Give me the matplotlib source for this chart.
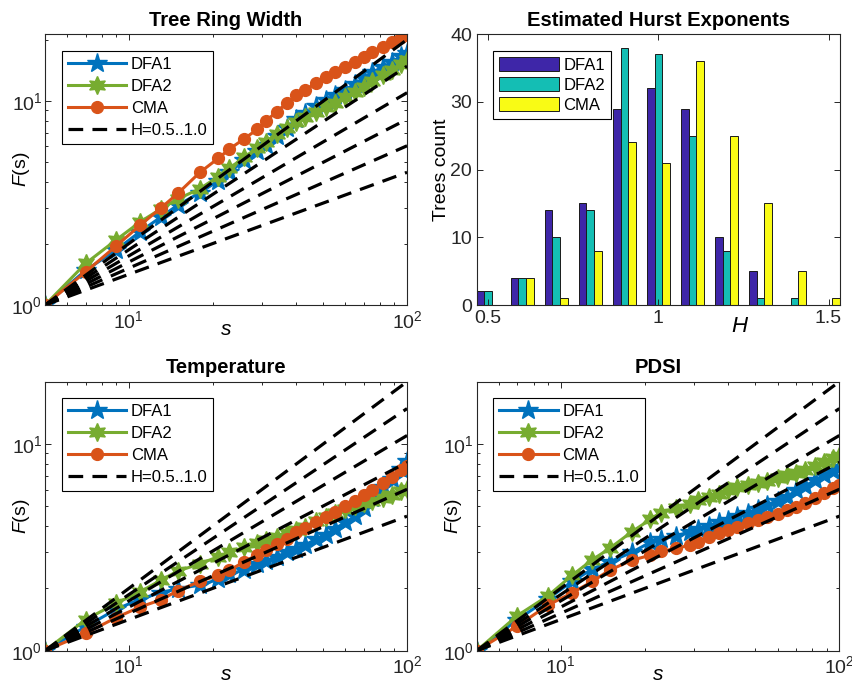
import numpy as np
import matplotlib
matplotlib.use('Agg')
import matplotlib.pyplot as plt
from matplotlib.ticker import NullFormatter

plt.rcParams['font.family'] = ['Liberation Sans', 'DejaVu Sans']
plt.rcParams['mathtext.fontset'] = 'custom'
plt.rcParams['mathtext.rm'] = 'Liberation Sans'
plt.rcParams['mathtext.it'] = 'Liberation Sans:italic'
plt.rcParams['mathtext.bf'] = 'Liberation Sans:bold'

####################
# scales s and log10 F(s)
s = [5, 7, 9, 11, 13, 15, 18, 21, 23, 26, 29, 31, 34, 37, 40, 43, 47, 51, 55,
     60, 65, 70, 75, 82, 88, 95, 100]

tree_dfa1 = [0, 0.17, 0.27, 0.36, 0.43, 0.49, 0.55, 0.61, 0.65, 0.71, 0.755, 0.785, 0.83, 0.87,
             0.91, 0.94, 0.975, 1.005, 1.03, 1.055, 1.085, 1.115, 1.14, 1.168, 1.19, 1.22, 1.234]
tree_dfa2 = [0, 0.204, 0.319, 0.408, 0.47, 0.52, 0.57, 0.63, 0.67, 0.725, 0.77, 0.80, 0.84, 0.87,
             0.895, 0.92, 0.945, 0.97, 0.99, 1.02, 1.045, 1.07, 1.10, 1.13, 1.15, 1.18, 1.20]
tree_cma = [0, 0.163, 0.289, 0.392, 0.474, 0.547, 0.65, 0.72, 0.765, 0.815, 0.862, 0.90, 0.948, 0.99,
            1.029, 1.054, 1.087, 1.119, 1.144, 1.168, 1.193, 1.217, 1.242, 1.266, 1.291, 1.315, 1.324]

temp_dfa1 = [0, 0.116, 0.20, 0.25, 0.28, 0.30, 0.317, 0.345, 0.37, 0.39, 0.42, 0.435, 0.455, 0.475,
             0.49, 0.51, 0.54, 0.56, 0.59, 0.62, 0.65, 0.69, 0.74, 0.79, 0.83, 0.88, 0.919]
temp_dfa2 = [0, 0.15, 0.229, 0.285, 0.34, 0.385, 0.42, 0.455, 0.475, 0.50, 0.52, 0.535, 0.55, 0.567,
             0.585, 0.60, 0.625, 0.648, 0.665, 0.685, 0.70, 0.713, 0.723, 0.74, 0.755, 0.772, 0.783]
temp_cma = [0, 0.084, 0.16, 0.212, 0.245, 0.29, 0.335, 0.365, 0.389, 0.43, 0.465, 0.485, 0.518, 0.54,
            0.575, 0.593, 0.62, 0.645, 0.67, 0.70, 0.725, 0.752, 0.775, 0.81, 0.84, 0.875, 0.895]

pdsi_dfa1 = [0, 0.15, 0.25, 0.335, 0.395, 0.43, 0.475, 0.525, 0.54, 0.555, 0.575, 0.59, 0.605, 0.62,
             0.633, 0.65, 0.668, 0.685, 0.705, 0.725, 0.745, 0.775, 0.795, 0.825, 0.85, 0.87, 0.887]
pdsi_dfa2 = [0, 0.17, 0.265, 0.365, 0.44, 0.495, 0.575, 0.635, 0.668, 0.69, 0.71, 0.727, 0.745, 0.759,
             0.775, 0.792, 0.803, 0.81, 0.82, 0.833, 0.848, 0.86, 0.872, 0.895, 0.912, 0.93, 0.944]
pdsi_cma = [0, 0.12, 0.22, 0.28, 0.335, 0.39, 0.437, 0.462, 0.48, 0.495, 0.51, 0.528, 0.55, 0.57,
            0.585, 0.60, 0.617, 0.633, 0.647, 0.663, 0.68, 0.697, 0.715, 0.74, 0.764, 0.785, 0.799]

# reference slopes
H_ref = [0.5, 0.6, 0.7, 0.8, 0.9, 1.0]
s_ref = [5, 100]

# histogram of Hurst exponents
H_bins = [0.5, 0.6, 0.7, 0.8, 0.9, 1.0, 1.1, 1.2, 1.3, 1.4, 1.5]
hist_dfa1 = [2, 4, 14, 15, 29, 32, 29, 10, 5, 0, 0]
hist_dfa2 = [2, 4, 10, 14, 38, 37, 25, 8, 1, 1, 0]
hist_cma = [0, 4, 1, 8, 24, 21, 36, 25, 15, 5, 1]
####################

blue = '#0072BD'
green = '#77AC30'
orange = '#D95319'
axcol = '#262626'

fig = plt.figure(figsize=(8.53, 6.85), dpi=100)
ax_tl = fig.add_axes([0.0528, 0.5547, 0.4244, 0.3956])
ax_tr = fig.add_axes([0.5589, 0.5547, 0.4259, 0.3956])
ax_bl = fig.add_axes([0.0528, 0.0501, 0.4244, 0.3927])
ax_br = fig.add_axes([0.5589, 0.0501, 0.4251, 0.3927])


def style_axes(ax):
    for sp in ax.spines.values():
        sp.set_color(axcol)
        sp.set_linewidth(0.8)
    ax.tick_params(which='both', direction='in', top=True, right=True,
                   colors=axcol, labelsize=14, width=0.7)
    ax.tick_params(which='major', length=4.5)
    ax.tick_params(which='minor', length=2.5)


def fa_panel(ax, d1, d2, cma, title, ytop):
    ax.set_xscale('log')
    ax.set_yscale('log')
    ax.plot(s, 10 ** np.array(d1), color=blue, lw=2.2, marker='*', ms=15, label='DFA1')
    ax.plot(s, 10 ** np.array(d2), color=green, lw=2.2, marker=(6, 1, 0), ms=13, label='DFA2')
    ax.plot(s, 10 ** np.array(cma), color=orange, lw=2.2, marker='o', ms=8.5, label='CMA')
    for i, h in enumerate(H_ref):
        ax.plot(s_ref, (np.array(s_ref) / s_ref[0]) ** h, color='k', lw=2.3,
                ls=(0, (4.6, 2.9)), label='H=0.5..1.0' if i == 0 else None)
    ax.set_xlim(5, 100)
    ax.set_ylim(1, ytop)
    ax.xaxis.set_minor_formatter(NullFormatter())
    ax.yaxis.set_minor_formatter(NullFormatter())
    style_axes(ax)
    ax.tick_params(axis='y', pad=2)
    ax.set_title(title, fontsize=14.5, fontweight='bold', pad=6)
    ax.set_xlabel('$s$', fontsize=15)
    ax.xaxis.set_label_coords(0.5, -0.09)
    ax.xaxis.label.set_va('center')
    ax.set_ylabel('$F$(s)', fontsize=14)
    ax.yaxis.set_label_coords(-0.064, 0.5)
    ax.yaxis.label.set_va('center')
    leg = ax.legend(loc='upper left', bbox_to_anchor=(0.046, 0.938), borderaxespad=0,
                    fontsize=12, handlelength=3.5, handletextpad=0.3, labelspacing=0.42,
                    borderpad=0.35, fancybox=False, framealpha=1, edgecolor='k')
    leg.get_frame().set_linewidth(0.8)


fa_panel(ax_tl, tree_dfa1, tree_dfa2, tree_cma, 'Tree Ring Width', 21.3)
fa_panel(ax_bl, temp_dfa1, temp_dfa2, temp_cma, 'Temperature', 20)
fa_panel(ax_br, pdsi_dfa1, pdsi_dfa2, pdsi_cma, 'PDSI', 20)

# histogram panel
bw = 0.0226
hb = np.array(H_bins)
for k, (vals, col, lab) in enumerate([(hist_dfa1, '#3E26A8', 'DFA1'),
                                      (hist_dfa2, '#14BEB4', 'DFA2'),
                                      (hist_cma, '#F9FB15', 'CMA')]):
    ax_tr.bar(hb + (k - 1) * bw, vals, width=bw, color=col, edgecolor='#1a1a1a',
              linewidth=0.7, label=lab)
ax_tr.set_xlim(0.5 - 1.5 * bw, 1.5 + 1.5 * bw)
ax_tr.set_ylim(0, 40)
ax_tr.set_xticks([0.5, 1, 1.5])
ax_tr.set_xticklabels(['0.5', '1', '1.5'])
ax_tr.set_yticks([0, 10, 20, 30, 40])
style_axes(ax_tr)
ax_tr.set_title('Estimated Hurst Exponents', fontsize=14.5, fontweight='bold', pad=6)
ax_tr.set_xlabel('$H$', fontsize=16)
ax_tr.xaxis.set_label_coords(0.725, -0.08)
ax_tr.xaxis.label.set_va('center')
ax_tr.set_ylabel('Trees count', fontsize=14)
ax_tr.yaxis.set_label_coords(-0.098, 0.5)
ax_tr.yaxis.label.set_va('center')
leg = ax_tr.legend(loc='upper left', bbox_to_anchor=(0.044, 0.938), borderaxespad=0,
                   fontsize=12, handlelength=3.6, handleheight=0.95, handletextpad=0.3,
                   labelspacing=0.25, borderpad=0.35, fancybox=False, framealpha=1,
                   edgecolor='k')
leg.get_frame().set_linewidth(0.8)

fig.savefig('out.png', dpi=100)
